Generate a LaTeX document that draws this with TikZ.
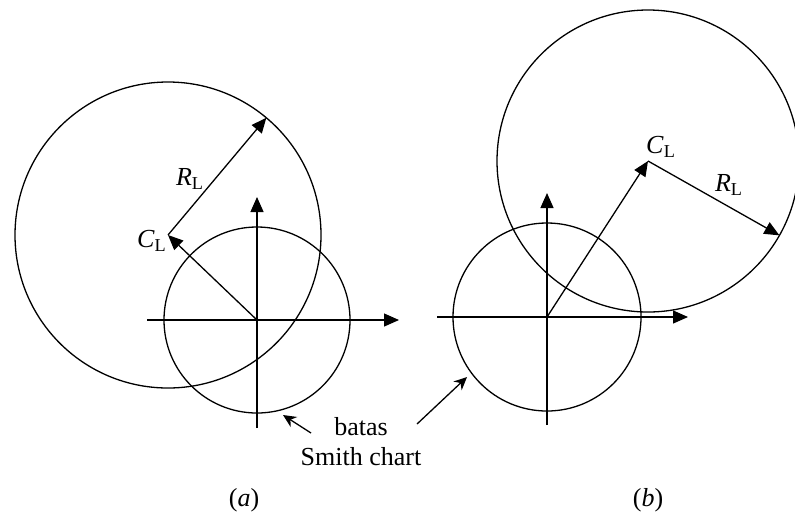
\documentclass[tikz,border=0pt]{standalone}
\usepackage{fontspec}
\setmainfont{Liberation Serif}
\usetikzlibrary{arrows.meta, calc}
\tikzset{every node/.append style={execute at begin node={\hyphenpenalty=10000\exhyphenpenalty=10000\relax}}}

\begin{document}
\begin{tikzpicture}[x=0.5pt, y=-0.5pt, line width=0.65pt, font={\fontsize{13}{15}\selectfont},
  >={Triangle[length=7.5pt, width=6.5pt]},
  ptr/.style={-{Stealth[length=6.5pt, width=6pt]}},
  lbl/.style={inner sep=0pt}]
  \useasboundingbox (0,0) rectangle (795,515);
  \coordinate (oa) at (257,320);
  \coordinate (ca) at (168,235);
  \coordinate (ra) at ($(ca)+(50:76.5pt)$);
  \coordinate (xa1) at (147,320); \coordinate (xa2) at (399,320);
  \coordinate (ya1) at (257,428); \coordinate (ya2) at (257,197);
  \draw (oa) circle[radius=46.5pt];
  \draw (ca) circle[radius=76.5pt];
  \draw[->] (xa1)--(xa2); \draw[->] (ya1)--(ya2);
  \draw[->] (oa)--(ca); \draw[->] (ca)--(ra);
  \node[lbl] (cla) at (152,241) {\textit{C}\textsubscript{L}};
  \node[lbl] (rla) at (190,179) {\textit{R}\textsubscript{L}};
  \coordinate (ob) at (547,317);
  \coordinate (cb) at (648,161);
  \coordinate (rb) at ($(cb)+(-29.5:75.5pt)$);
  \coordinate (xb1) at (437,317); \coordinate (xb2) at (688,317);
  \coordinate (yb1) at (547,425); \coordinate (yb2) at (547,193);
  \draw (ob) circle[radius=47pt];
  \draw (cb) circle[radius=75.5pt];
  \draw[->] (xb1)--(xb2); \draw[->] (yb1)--(yb2);
  \draw[->] (ob)--(cb); \draw[->] (cb)--(rb);
  \node[lbl] (clb) at (661,147) {\textit{C}\textsubscript{L}};
  \node[lbl] (rlb) at (729,185) {\textit{R}\textsubscript{L}};
  \node[lbl, align=center] (smith) at (361,442) {batas\\Smith chart};
  \coordinate (sa) at (311,433); \coordinate (ea) at (283,415);
  \coordinate (sb) at (417,424); \coordinate (eb) at (467,377);
  \draw[ptr] (sa)--(ea); \draw[ptr] (sb)--(eb);
  \node[lbl] (capa) at (244,500) {(\textit{a})};
  \node[lbl] (capb) at (648,500) {(\textit{b})};
\end{tikzpicture}
\end{document}
